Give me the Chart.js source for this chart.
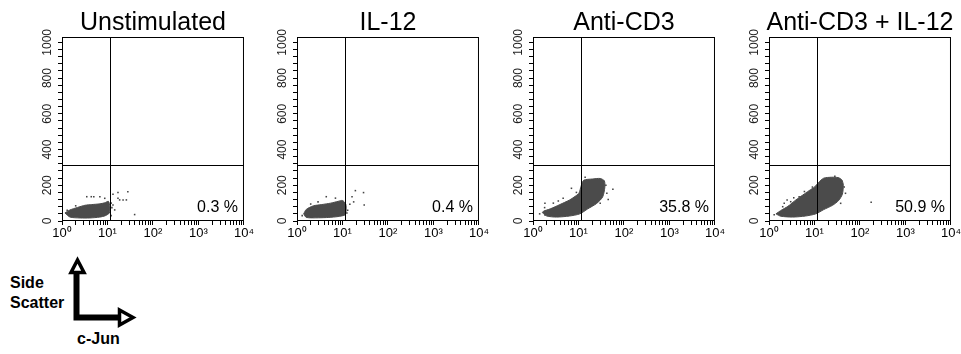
<!DOCTYPE html>
<html>
<head>
<meta charset="utf-8">
<script src="https://cdn.jsdelivr.net/npm/chart.js@4.4.1/dist/chart.umd.min.js"></script>
<style>
  html, body { margin: 0; padding: 0; background: #fff; }
  body { position: relative; width: 961px; height: 354px; overflow: hidden; font-family: "Liberation Sans", Arial, sans-serif; }
  .panel { position: absolute; top: 0; width: 233px; height: 250px; }
  .lbl { position: absolute; font-weight: bold; font-size: 16px; line-height: 20px; color: #000; white-space: nowrap; }
</style>
</head>
<body>
<div class="panel" style="left:22px"><canvas id="p0" width="233" height="250"></canvas></div>
<div class="panel" style="left:257px"><canvas id="p1" width="233" height="250"></canvas></div>
<div class="panel" style="left:493px"><canvas id="p2" width="233" height="250"></canvas></div>
<div class="panel" style="left:729px"><canvas id="p3" width="233" height="250"></canvas></div>

<!-- axis key -->
<svg style="position:absolute;left:0;top:250px" width="150" height="104">
  <path d="M76.5 23 V67.5 H119.5" fill="none" stroke="#000" stroke-width="6"/>
  <polygon points="77.5,10 71,22.5 84,22.5" fill="#fff" stroke="#000" stroke-width="3.5" stroke-linejoin="miter"/>
  <polygon points="119.5,60 133,67.5 119.5,75" fill="#fff" stroke="#000" stroke-width="3.5" stroke-linejoin="miter"/>
</svg>
<div class="lbl" style="left:10px;top:273px">Side<br>Scatter</div>
<div class="lbl" style="left:77px;top:329px">c-Jun</div>

<script>
const panelTitles = ['Unstimulated', 'IL-12', 'Anti-CD3', 'Anti-CD3 + IL-12'];
const quadrantPercents = ['0.3 %', '0.4 %', '35.8 %', '50.9 %'];

const yTickValues = [0, 200, 400, 600, 800, 1000];
const yMinorStep = 40;
const xDecades = [1, 10, 100, 1000, 10000];
const xTickLabels = ['10\u2070', '10\u00b9', '10\u00b2', '10\u00b3', '10\u2074'];

// quadrant gates (c-Jun, side scatter)
const gateX = 11.4;
const gateY = 312;

// outlines of the dense cell clouds, [c-Jun, side scatter]
const unstimCloud = [[1.16, 45], [1.5, 22], [2.5, 17], [4.1, 17], [6.8, 22], [9, 30], [11, 45],
  [11.3, 80], [10.5, 110], [8.7, 102], [6.8, 96], [4.5, 92], [3.2, 88], [2.2, 76], [1.5, 62], [1.16, 45]];
const il12Cloud = [[1.4, 40], [1.6, 20], [3, 18], [5, 20], [8, 25], [11.5, 35], [12, 60],
  [11.8, 95], [10, 115], [8, 110], [5.5, 100], [3.5, 92], [2.3, 85], [1.6, 65], [1.4, 40]];
const cd3Cloud = [[1.6, 47], [2.0, 28], [3.3, 22], [6.4, 28], [10.7, 40], [16, 68], [25, 98],
  [34, 135], [38, 190], [37, 225], [30, 238], [20, 235], [13, 228], [11.4, 195], [10.2, 155],
  [8, 134], [6.4, 118], [3.9, 92], [2.4, 68], [1.7, 55], [1.6, 47]];
const cd3Il12Cloud = [[1.42, 40], [1.8, 27], [3.3, 22], [6.4, 28], [10.7, 40], [16, 64], [25, 88],
  [34, 115], [41, 150], [43, 200], [40, 230], [33, 243], [24, 245], [16, 240], [12.2, 215],
  [10.2, 192], [7.6, 170], [5.5, 145], [3.9, 118], [2.6, 82], [1.8, 58], [1.42, 40]];

// scattered single events outside the clouds
const unstimStray = [[4.4, 136], [6.8, 136], [8.7, 127], [13.2, 150], [17, 127], [18.5, 118], [26, 118],
  [28, 164], [39.5, 36], [13.2, 90], [14.4, 62], [3.5, 136], [5, 136], [17, 159], [22, 118],
  [1.3, 60], [2.0, 85], [12, 100], [12.5, 75], [12, 30]];
const il12Stray = [[19.2, 170], [29, 159], [16.2, 136], [17.6, 107], [30, 90], [14.5, 94], [4.4, 136],
  [2.9, 107], [13, 60], [12.5, 45], [1.3, 30], [2.0, 95], [7, 128]];
const cd3Stray = [[1.83, 99], [1.8, 75], [7, 183], [4.6, 127], [57, 178], [42, 155], [30, 99], [1.83, 34],
  [1.4, 40], [2.8, 100], [3.6, 112], [40, 200], [14, 245], [9, 160], [45, 120]];
const cd3Il12Stray = [[2.16, 99], [2.5, 118], [3.0, 108], [2.0, 80], [4.6, 136], [176, 105], [48, 155],
  [37.6, 99], [1.3, 35], [3.5, 130], [6, 165], [45, 190], [28, 250], [9, 190]];

const clouds = [unstimCloud, il12Cloud, cd3Cloud, cd3Il12Cloud];
const strays = [unstimStray, il12Stray, cd3Stray, cd3Il12Stray];

const FONT = '"Liberation Sans", Arial, sans-serif';
const CLOUD_COLOR = '#4b4b4b';

const toPoints = arr => arr.map(([x, y]) => ({ x, y }));

// log axis tick positions: 1..9 of every decade
const xTickValues = [];
xDecades.slice(0, -1).forEach(d => { for (let m = 1; m < 10; m++) xTickValues.push(m * d); });
xTickValues.push(xDecades[xDecades.length - 1]);

const yMinorValues = [];
for (let v = 0; v <= 1000; v += yMinorStep) yMinorValues.push(v);

/**
 * Frame, quadrant gates, title, percentage and rotated y labels
 */
const flowDecor = {
  id: 'flowDecor',
  afterDatasetsDraw(chart, args, opts) {
    const { ctx, chartArea: a, scales: { x, y } } = chart;
    ctx.save();
    ctx.strokeStyle = '#000';
    ctx.lineWidth = 1;
    ctx.strokeRect(a.left + 0.5, a.top + 0.5, a.width - 1, a.height - 1);

    const gx = Math.round(x.getPixelForValue(gateX)) + 0.5;
    const gy = Math.round(y.getPixelForValue(gateY)) + 0.5;
    ctx.beginPath();
    ctx.moveTo(gx, a.top);
    ctx.lineTo(gx, a.bottom);
    ctx.moveTo(a.left, gy);
    ctx.lineTo(a.right, gy);
    ctx.stroke();

    ctx.fillStyle = '#000';
    ctx.textBaseline = 'alphabetic';
    ctx.font = '16px ' + FONT;
    ctx.textAlign = 'right';
    ctx.fillText(opts.percent, a.right - 6, a.bottom - 9);

    ctx.font = '25px ' + FONT;
    ctx.textAlign = 'center';
    ctx.fillText(opts.title, (a.left + a.right) / 2, 30);

    ctx.font = '12px ' + FONT;
    ctx.fillStyle = '#222';
    yTickValues.forEach(v => {
      ctx.save();
      ctx.translate(a.left - 14.5, y.getPixelForValue(v));
      ctx.rotate(-Math.PI / 2);
      ctx.textAlign = 'center';
      ctx.textBaseline = 'middle';
      ctx.fillText(String(v), 0, 0);
      ctx.restore();
    });
    ctx.restore();
  }
};

function makePanel(i) {
  const ctx = document.getElementById('p' + i);
  return new Chart(ctx, {
    type: 'scatter',
    data: {
      datasets: [{
        data: toPoints(clouds[i]),
        showLine: true,
        fill: 'shape',
        tension: 0.25,
        backgroundColor: CLOUD_COLOR,
        borderColor: CLOUD_COLOR,
        borderWidth: 1,
        pointRadius: 0
      }, {
        data: toPoints(strays[i]),
        showLine: false,
        pointStyle: 'rect',
        pointRadius: 1.1,
        backgroundColor: '#444',
        borderWidth: 0
      }]
    },
    options: {
      responsive: false,
      animation: false,
      devicePixelRatio: 1,
      events: [],
      layout: { padding: { top: 37, right: 10, bottom: 0, left: 0 } },
      plugins: {
        legend: { display: false },
        tooltip: { enabled: false },
        flowDecor: { title: panelTitles[i], percent: quadrantPercents[i] }
      },
      scales: {
        x: {
          type: 'logarithmic',
          min: 1,
          max: 10000,
          afterBuildTicks: s => { s.ticks = xTickValues.map(v => ({ value: v })); },
          afterFit: s => { s.height = 29; },
          border: { display: false },
          grid: { drawOnChartArea: false, drawTicks: true, tickLength: 4, tickColor: '#000', tickWidth: 1 },
          ticks: {
            autoSkip: false,
            maxRotation: 0,
            minRotation: 0,
            padding: 1,
            color: '#000',
            font: { family: FONT, size: 13 },
            callback: function(value) {
              const k = xDecades.indexOf(value);
              return k >= 0 ? xTickLabels[k] : '';
            }
          }
        },
        y: {
          min: 0,
          max: 1030,
          afterBuildTicks: s => { s.ticks = yMinorValues.map(v => ({ value: v })); },
          afterFit: s => { s.width = 40; },
          border: { display: false },
          grid: { drawOnChartArea: false, drawTicks: true, tickLength: 4, tickColor: '#000', tickWidth: 1 },
          ticks: { display: false }
        }
      }
    },
    plugins: [flowDecor]
  });
}

[0, 1, 2, 3].forEach(makePanel);
</script>
</body>
</html>
